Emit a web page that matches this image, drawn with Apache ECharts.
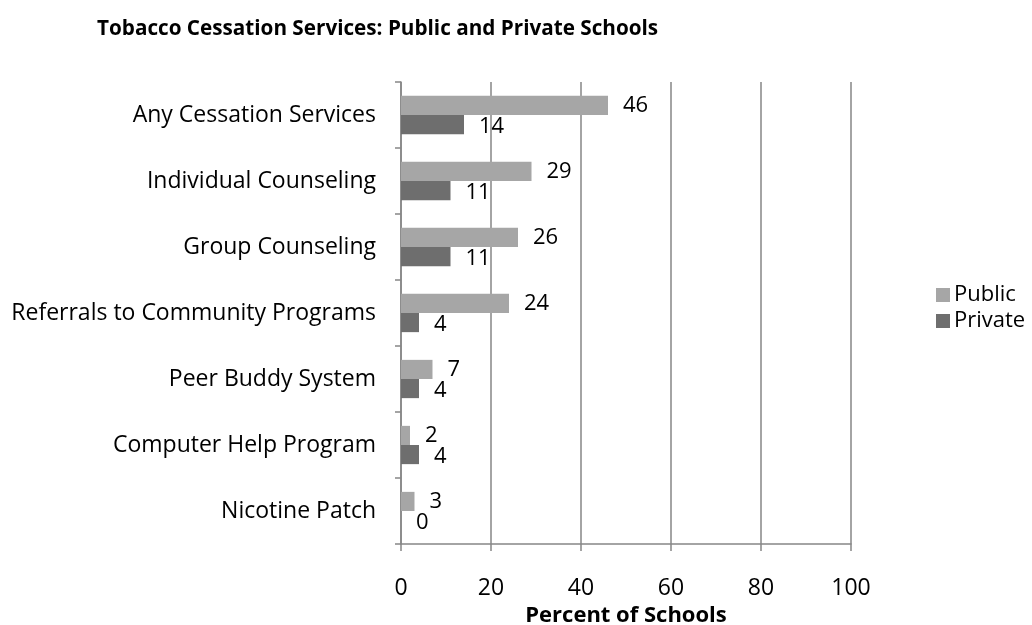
<!DOCTYPE html>
<html>
<head>
<meta charset="utf-8">
<script src="https://cdn.jsdelivr.net/npm/echarts@6/dist/echarts.min.js"></script>
<style>
  html, body { margin: 0; padding: 0; background: #ffffff; }
  #chart { width: 1032px; height: 625px; }
</style>
</head>
<body>
<div id="chart"></div>
<script>
// Services offered, listed top to bottom
const categories = [
  'Any Cessation Services',
  'Individual Counseling',
  'Group Counseling',
  'Referrals to Community Programs',
  'Peer Buddy System',
  'Computer Help Program',
  'Nicotine Patch'
];
// Percent of schools offering each service
const publicValues = [46, 29, 26, 24, 7, 2, 3];
const privateValues = [14, 11, 11, 4, 4, 4, 0];
const xTicks = { min: 0, max: 100, interval: 20 };

const FONT = '"Open Sans", "Noto Sans", sans-serif';
const AXIS_GRAY = '#868686';

const chart = echarts.init(document.getElementById('chart'), null, { renderer: 'canvas' });

function barSeries(name, values, color, labelShift) {
  return {
    name: name,
    type: 'bar',
    data: values,
    barGap: '0%',
    barCategoryGap: '42%',
    itemStyle: { color: color },
    label: {
      show: true,
      position: 'right',
      distance: 15,
      offset: [0, labelShift],
      color: '#000000',
      fontFamily: FONT,
      fontSize: 22
    },
    animation: false
  };
}

chart.setOption({
  backgroundColor: '#ffffff',
  title: {
    text: 'Tobacco Cessation Services: Public and Private Schools',
    left: 92,
    top: 14,
    textStyle: { fontFamily: FONT, fontSize: 20.7, fontWeight: 'bold', color: '#000000' }
  },
  legend: {
    orient: 'vertical',
    left: 931,
    top: 279,
    icon: 'rect',
    itemWidth: 14,
    itemHeight: 14,
    itemGap: 4,
    textStyle: { fontFamily: FONT, fontSize: 22, color: '#000000', padding: [0, 0, 0, -1] },
    data: ['Public', 'Private']
  },
  grid: { left: 401, right: 181, top: 82, bottom: 81, containLabel: false, outerBoundsMode: 'none' },
  xAxis: {
    type: 'value',
    min: xTicks.min,
    max: xTicks.max,
    interval: xTicks.interval,
    name: 'Percent of Schools',
    nameLocation: 'middle',
    nameGap: 50,
    nameTextStyle: { fontFamily: FONT, fontSize: 22, fontWeight: 'bold', color: '#000000' },
    axisLine: { show: true, lineStyle: { color: AXIS_GRAY, width: 1.5 } },
    axisTick: { show: true, length: 7, lineStyle: { color: AXIS_GRAY, width: 1.5 } },
    axisLabel: { margin: 33, fontFamily: FONT, fontSize: 23, color: '#000000' },
    splitLine: { show: true, lineStyle: { color: AXIS_GRAY, width: 1.5 } }
  },
  yAxis: {
    type: 'category',
    data: categories,
    inverse: true,
    axisLine: { show: true, lineStyle: { color: AXIS_GRAY, width: 1.5 } },
    axisTick: { show: true, length: 6, interval: 0, lineStyle: { color: AXIS_GRAY, width: 1.5 } },
    axisLabel: { margin: 25, fontFamily: FONT, fontSize: 23, color: '#000000' },
    splitLine: { show: false }
  },
  series: [
    barSeries('Public', publicValues, '#a6a6a6', 0),
    barSeries('Private', privateValues, '#6e6e6e', 2)
  ]
});
</script>
</body>
</html>
